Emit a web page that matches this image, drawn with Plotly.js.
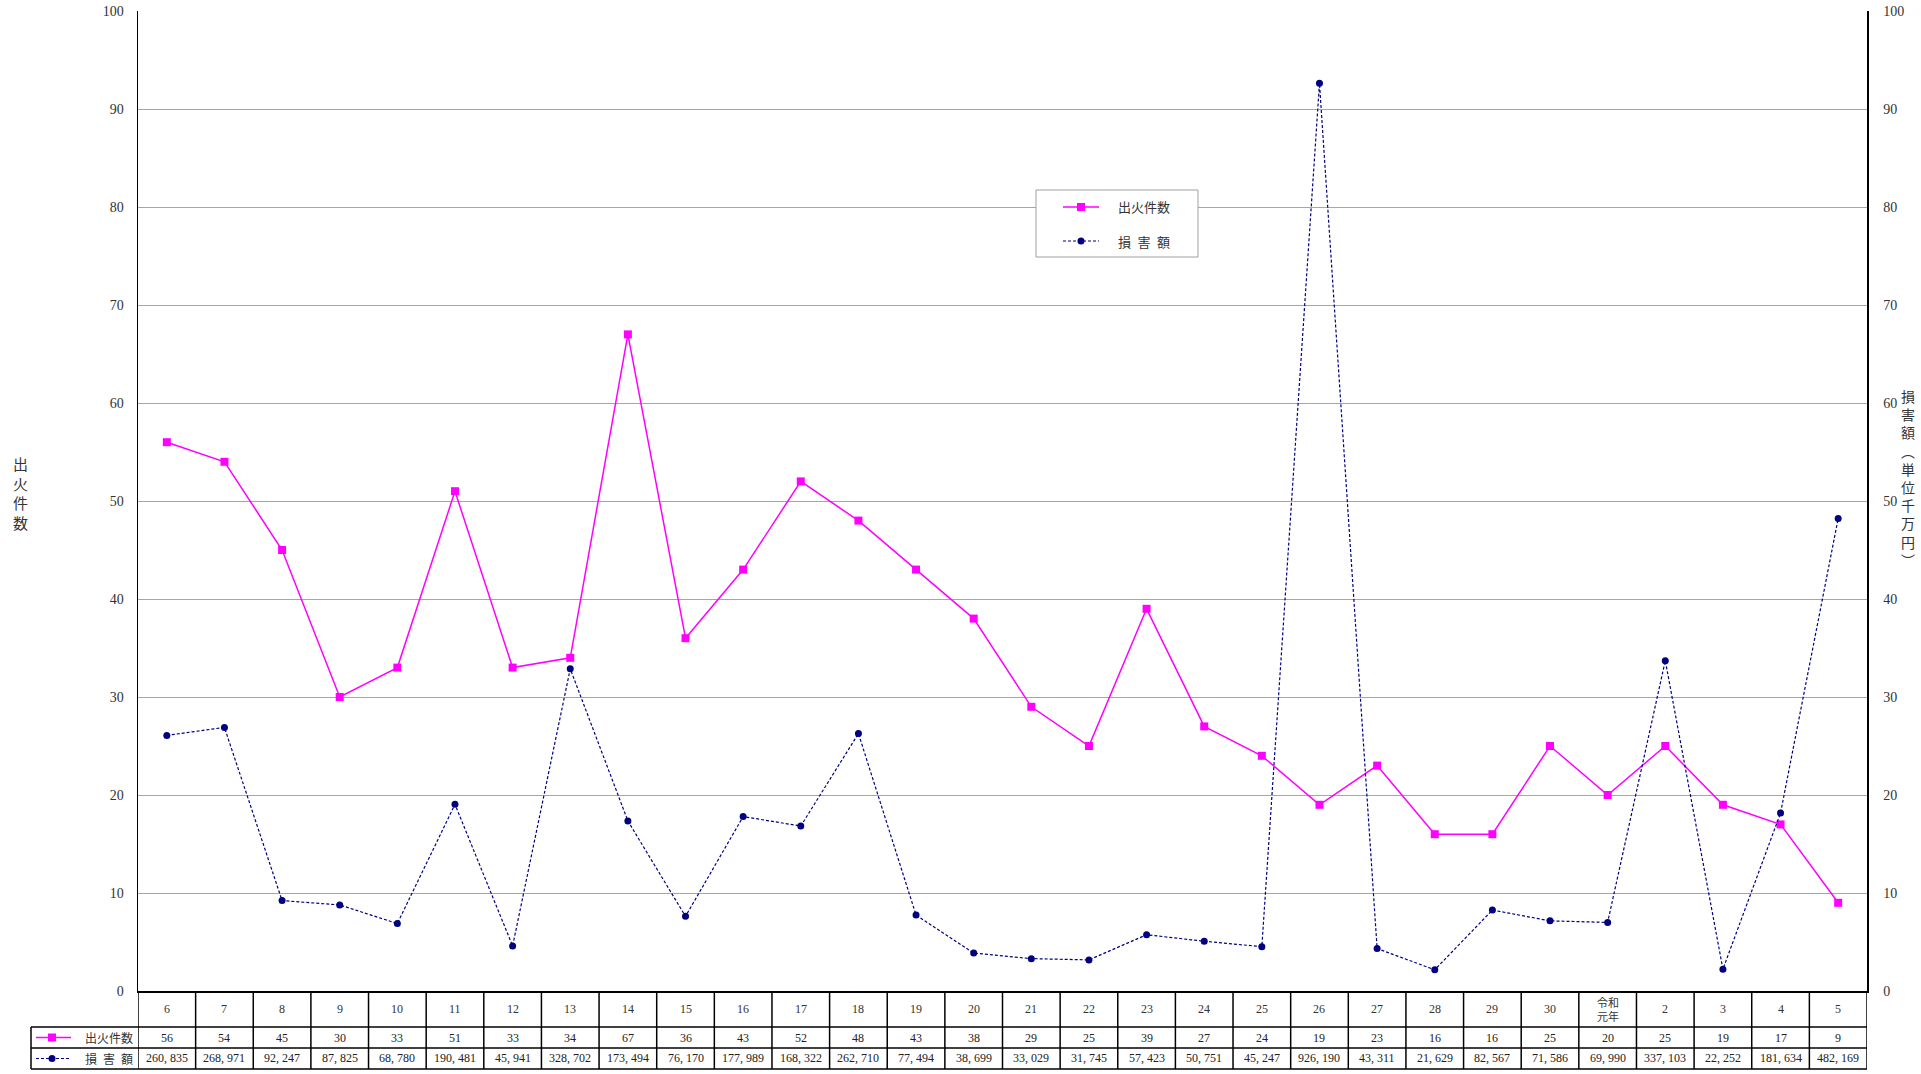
<!DOCTYPE html>
<html><head><meta charset="utf-8">
<script src="https://cdn.plot.ly/plotly-3.0.1.min.js"></script>
<style>body{margin:0;background:#fff}#chart{width:1921px;height:1074px}</style>
</head><body><div id="chart"></div>
<script>
// ---- data ----
const years = ["6","7","8","9","10","11","12","13","14","15","16","17","18","19","20","21","22","23","24","25","26","27","28","29","30","令和<br>元年","2","3","4","5"];
const fireCounts = [56,54,45,30,33,51,33,34,67,36,43,52,48,43,38,29,25,39,27,24,19,23,16,16,25,20,25,19,17,9];
const damageThousandYen = [260835,268971,92247,87825,68780,190481,45941,328702,173494,76170,177989,168322,262710,77494,38699,33029,31745,57423,50751,45247,926190,43311,21629,82567,71586,69990,337103,22252,181634,482169];
const seriesNames = ["出火件数", "損\u2002害\u2002額"];
const leftTitle = "出火件数";
const rightTitle = "損害額︵単位千万円︶";

// ---- geometry helpers ----
const W = 1921, H = 1074, L = 138, R = 1867, T = 11, B = 991;
const X = px => (px - L) / (R - L);
const Y = py => (B - py) / (B - T);
const idx = years.map((_, i) => i);
const damageTenMillion = damageThousandYen.map(v => v / 10000);
const fmt = v => v.toLocaleString('en-US').replace(/,/g, ', ');

const serif = "Liberation Serif, 'Noto Sans CJK JP', serif";
const cjk = "'Noto Sans CJK JP', sans-serif";
const PINK = '#ff00ff', NAVY = '#000080';
const NAVY_DASH = '3px,2px';

const traces = [
  {x: idx, y: fireCounts, name: seriesNames[0], type: 'scatter', mode: 'lines+markers',
   line: {color: PINK, width: 1.5}, marker: {symbol: 'square', size: 8, color: PINK},
   yaxis: 'y', cliponaxis: false},
  {x: idx, y: damageTenMillion, name: seriesNames[1], type: 'scatter', mode: 'lines+markers',
   line: {color: NAVY, width: 1.2, dash: NAVY_DASH}, marker: {symbol: 'circle', size: 7, color: NAVY},
   yaxis: 'y2', cliponaxis: false}
];

const shapes = [];
const annotations = [];

// sample helper (line + marker) in pixel positions
function sample(x0, x1, xm, py, color, dash, kind, half) {
  shapes.push({type: 'line', xref: 'paper', yref: 'paper', x0: X(x0), x1: X(x1), y0: Y(py), y1: Y(py),
    line: {color: color, width: dash ? 1.2 : 1.5, dash: dash || 'solid'}});
  shapes.push({type: kind, xref: 'paper', yref: 'paper', xsizemode: 'pixel', ysizemode: 'pixel',
    xanchor: X(xm), yanchor: Y(py), x0: -half, x1: half, y0: -half, y1: half, fillcolor: color, line: {width: 0}});
}

// ---- legend box (drawn) ----
shapes.push({type: 'rect', xref: 'paper', yref: 'paper', x0: X(1036), x1: X(1198), y0: Y(190), y1: Y(257),
  fillcolor: '#fff', line: {color: '#a0a0a0', width: 1}});
sample(1063, 1099, 1081, 207, PINK, null, 'rect', 4);
sample(1063, 1099, 1081, 241, NAVY, NAVY_DASH, 'circle', 3.5);
annotations.push({xref: 'paper', yref: 'paper', x: X(1116), y: Y(207), xanchor: 'left', yanchor: 'middle', text: seriesNames[0], showarrow: false, font: {family: cjk, size: 13, color: '#333'}});
annotations.push({xref: 'paper', yref: 'paper', x: X(1116), y: Y(241), xanchor: 'left', yanchor: 'middle', text: seriesNames[1], showarrow: false, font: {family: cjk, size: 13, color: '#333'}});

// ---- table (shapes + annotations) ----
const rowTop = 991, rowH1 = 1027, rowH2 = 1048, rowH3 = 1069, labelLeft = 31;
const lineStyle = {color: '#000', width: 1.5};
for (let i = 0; i <= years.length; i++) {
  shapes.push({type: 'line', xref: 'x', yref: 'paper', x0: i - 0.5, x1: i - 0.5, y0: Y(rowTop), y1: Y(rowH3), line: lineStyle});
}
shapes.push({type: 'line', xref: 'paper', yref: 'paper', x0: X(labelLeft), x1: X(labelLeft), y0: Y(rowH1), y1: Y(rowH3), line: lineStyle});
[rowH1, rowH2, rowH3].forEach(py => {
  shapes.push({type: 'line', xref: 'paper', yref: 'paper', x0: X(labelLeft), x1: 1, y0: Y(py), y1: Y(py), line: lineStyle});
});
const rowY = [(rowH1 + rowH2) / 2, (rowH2 + rowH3) / 2];
sample(36, 71, 52, rowY[0], PINK, null, 'rect', 4);
sample(36, 71, 52, rowY[1], NAVY, NAVY_DASH, 'circle', 3.5);

annotations.push({xref: 'paper', yref: 'paper', x: X(135), y: Y(rowY[0]), xanchor: 'right', yanchor: 'middle', text: seriesNames[0], showarrow: false, font: {family: cjk, size: 12, color: '#333'}});
annotations.push({xref: 'paper', yref: 'paper', x: X(135), y: Y(rowY[1]), xanchor: 'right', yanchor: 'middle', text: seriesNames[1], showarrow: false, font: {family: cjk, size: 12, color: '#333'}});

years.forEach((yr, i) => {
  const isCJK = /[^\x00-\x7f]/.test(yr);
  annotations.push({xref: 'x', yref: 'paper', x: i, y: Y((rowTop + rowH1) / 2), xanchor: 'center', yanchor: 'middle', text: yr, showarrow: false,
    font: {family: isCJK ? cjk : serif, size: isCJK ? 11 : 12, color: '#333'}});
  annotations.push({xref: 'x', yref: 'paper', x: i, y: Y(rowY[0]), xanchor: 'center', yanchor: 'middle', text: String(fireCounts[i]), showarrow: false, font: {family: serif, size: 12, color: '#222'}});
  annotations.push({xref: 'x', yref: 'paper', x: i, y: Y(rowY[1]), xanchor: 'center', yanchor: 'middle', text: fmt(damageThousandYen[i]), showarrow: false, font: {family: serif, size: 12, color: '#222'}});
});

// axis titles (vertical stacked)
annotations.push({xref: 'paper', yref: 'paper', x: X(20), y: Y(493), xanchor: 'center', yanchor: 'middle', text: leftTitle.split('').join('<br>'), showarrow: false, font: {family: cjk, size: 15, color: '#333'}});
annotations.push({xref: 'paper', yref: 'paper', x: X(1908), y: Y(478), xanchor: 'center', yanchor: 'middle', text: rightTitle.split('').join('<br>'), showarrow: false, font: {family: cjk, size: 14, color: '#333'}});

const yBase = {range: [0, 100], dtick: 10, tick0: 0, showline: true, linecolor: '#000', linewidth: 1.5,
  ticks: '', tickfont: {family: serif, size: 14, color: '#333'}, fixedrange: true, zeroline: false};

const layout = {
  width: W, height: H, paper_bgcolor: '#fff', plot_bgcolor: '#fff',
  margin: {l: L, r: W - R, t: T, b: H - B, pad: 0},
  showlegend: false,
  xaxis: {range: [-0.5, years.length - 0.5], showticklabels: false, showgrid: false, zeroline: false, showline: true, linecolor: '#000', linewidth: 2, ticks: '', fixedrange: true},
  yaxis: Object.assign({}, yBase, {side: 'left', showgrid: true, gridcolor: '#a6a6a6', gridwidth: 1, ticklabelstandoff: 10}),
  yaxis2: Object.assign({}, yBase, {side: 'right', overlaying: 'y', showgrid: false, ticklabelstandoff: 12}),
  shapes: shapes,
  annotations: annotations
};

Plotly.newPlot('chart', traces, layout, {displayModeBar: false, staticPlot: true});
</script>
</body></html>
